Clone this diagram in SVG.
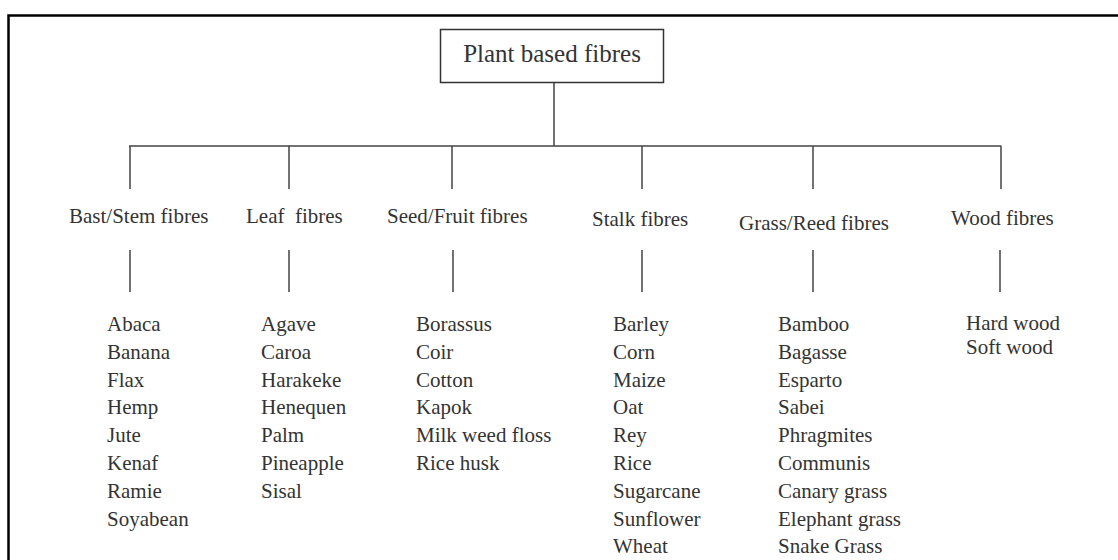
<svg xmlns="http://www.w3.org/2000/svg" width="1118" height="560" viewBox="0 0 1118 560">
<style>
text{font-family:"Liberation Serif","Times New Roman",serif;fill:#333;white-space:pre}
.t{font-size:25px}
.c{font-size:21px}
.i{font-size:21px}
.ln{stroke:#444;stroke-width:1.5;fill:none}
</style>
<rect width="1118" height="560" fill="#fff"/>
<path d="M8.5,560 V15.5 H1118" fill="none" stroke="#000" stroke-width="2.5"/>
<g id="connectors" class="ln">
<path d="M554,82 V146 M129,146 H1001.5 M130,146 V189 M289,146 V189 M452,146 V189 M642,146 V189 M813,146 V189 M1001,146 V189"/>
<path d="M130,250 V292 M289,250 V292 M453,250 V292 M642,250 V292 M813,250 V292 M1000,250 V292"/>
</g>
<g id="root">
<rect x="440.5" y="29.5" width="223" height="53" fill="#fff" stroke="#333" stroke-width="1.5"/>
<text class="t" x="552" y="62" text-anchor="middle">Plant based fibres</text>
</g>
<g id="bast">
<text class="c" x="69" y="223">Bast/Stem fibres</text>
<text class="i" x="107" y="331">Abaca</text>
<text class="i" x="107" y="358.8">Banana</text>
<text class="i" x="107" y="386.6">Flax</text>
<text class="i" x="107" y="414.4">Hemp</text>
<text class="i" x="107" y="442.2">Jute</text>
<text class="i" x="107" y="470">Kenaf</text>
<text class="i" x="107" y="497.8">Ramie</text>
<text class="i" x="107" y="525.6">Soyabean</text>
</g>
<g id="leaf">
<text class="c" x="246" y="223">Leaf  fibres</text>
<text class="i" x="261" y="331">Agave</text>
<text class="i" x="261" y="358.8">Caroa</text>
<text class="i" x="261" y="386.6">Harakeke</text>
<text class="i" x="261" y="414.4">Henequen</text>
<text class="i" x="261" y="442.2">Palm</text>
<text class="i" x="261" y="470">Pineapple</text>
<text class="i" x="261" y="497.8">Sisal</text>
</g>
<g id="seed">
<text class="c" x="387" y="222.5">Seed/Fruit fibres</text>
<text class="i" x="416" y="331">Borassus</text>
<text class="i" x="416" y="358.8">Coir</text>
<text class="i" x="416" y="386.6">Cotton</text>
<text class="i" x="416" y="414.4">Kapok</text>
<text class="i" x="416" y="442.2">Milk weed floss</text>
<text class="i" x="416" y="470">Rice husk</text>
</g>
<g id="stalk">
<text class="c" x="592" y="226">Stalk fibres</text>
<text class="i" x="613" y="331">Barley</text>
<text class="i" x="613" y="358.8">Corn</text>
<text class="i" x="613" y="386.6">Maize</text>
<text class="i" x="613" y="414.4">Oat</text>
<text class="i" x="613" y="442.2">Rey</text>
<text class="i" x="613" y="470">Rice</text>
<text class="i" x="613" y="497.8">Sugarcane</text>
<text class="i" x="613" y="525.6">Sunflower</text>
<text class="i" x="613" y="553.4">Wheat</text>
</g>
<g id="grass">
<text class="c" x="739" y="230">Grass/Reed fibres</text>
<text class="i" x="778" y="331">Bamboo</text>
<text class="i" x="778" y="358.8">Bagasse</text>
<text class="i" x="778" y="386.6">Esparto</text>
<text class="i" x="778" y="414.4">Sabei</text>
<text class="i" x="778" y="442.2">Phragmites</text>
<text class="i" x="778" y="470">Communis</text>
<text class="i" x="778" y="497.8">Canary grass</text>
<text class="i" x="778" y="525.6">Elephant grass</text>
<text class="i" x="778" y="553.4">Snake Grass</text>
</g>
<g id="wood">
<text class="c" x="951" y="225">Wood fibres</text>
<text class="i" x="966" y="330">Hard wood</text>
<text class="i" x="966" y="354">Soft wood</text>
</g>
</svg>
